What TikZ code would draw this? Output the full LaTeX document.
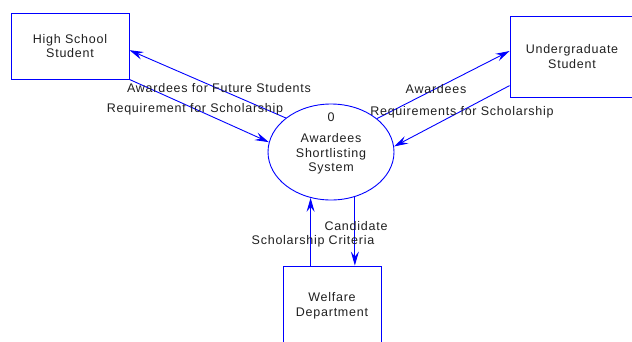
\documentclass[tikz,border=0pt]{standalone}
\usepackage{fontspec}
\setmainfont[LetterSpace=6]{Liberation Sans}
\usepackage{tikz}
\usetikzlibrary{arrows.meta, shapes.geometric}

\begin{document}
\begin{tikzpicture}[x=1pt, y=-1pt]
            \tikzset{entity/.style = {shape=rectangle, draw=blue, line width=0.9pt, align=center}}
            \tikzset{process/.style = {shape=ellipse, draw=blue, line width=0.9pt, align=center, inner sep=0pt}}
            \tikzset{flow/.style = {draw=blue, line width=0.9pt, -{Stealth[length=14pt, width=8pt, inset=5pt]}}}
            \tikzset{flowlabel/.style = {text=black!88, inner sep=0pt}}
            \tikzset{every node/.style = {font=\fontsize{12.5}{14.5}\selectfont, text=black!88}}
            \useasboundingbox (0,0) rectangle (632,341);
            \clip (0,0) rectangle (632,341);
            \node[entity, minimum width=118pt, minimum height=66pt] (hs) at (70, 46) {High School\\Student};
            \node[entity, minimum width=124pt, minimum height=81pt] (ug) at (572, 56.5) {Undergraduate\\Student};
            \node[entity, minimum width=98pt, minimum height=80pt] (wd) at (332, 306) {Welfare\\Department};
            \node[process, minimum width=126pt, minimum height=96pt] (sys) at (331, 152) {\\[-1pt]Awardees\\Shortlisting\\System};
            \node (num) at (331, 117) {0};
            \draw[flow] (sys.143) -- (hs.-4);
            \draw[flow] (hs.south east) -- (sys.171);
            \draw[flow] (sys.36) -- (ug.175);
            \draw[flow] (ug.205) -- (sys.5);
            \draw[flow] (wd.north -| sys.246) -- (sys.246);
            \draw[flow] (sys.298) -- (sys.298 |- wd.north);
            \node[flowlabel] (l1) at (219, 88) {Awardees for Future Students};
            \node[flowlabel] (l2) at (195, 109) {Requirement for Scholarship};
            \node[flowlabel] (l3) at (436, 89) {Awardees};
            \node[flowlabel] (l4) at (462, 112) {Requirements for Scholarship};
            \node[flowlabel] (l5) at (356, 226) {Candidate};
            \node[flowlabel] (l6) at (313, 241) {Scholarship Criteria};
          \end{tikzpicture}
\end{document}
